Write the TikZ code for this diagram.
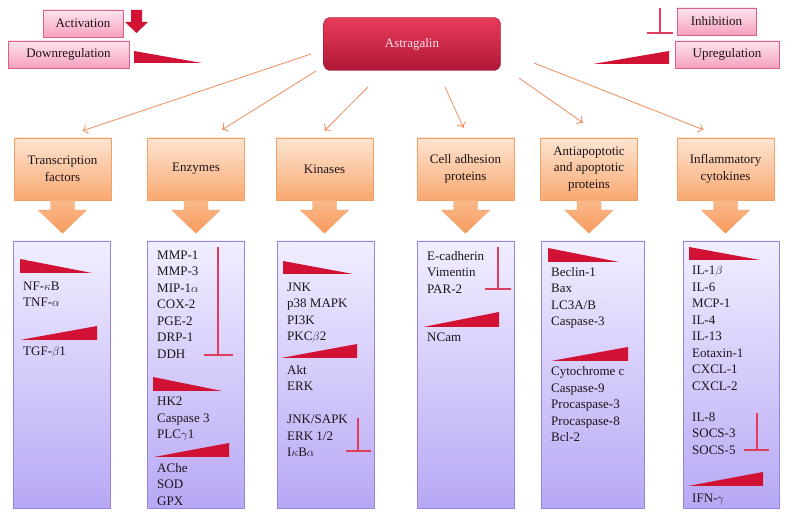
\documentclass[tikz,border=0pt]{standalone}
\usepackage{fontspec}
\setmainfont{Liberation Serif}
\usepackage{tikz}
\usetikzlibrary{arrows.meta, calc}
\usepackage{xcolor}
\definecolor{darktext}{RGB}{30, 20, 25}
\definecolor{astratop}{RGB}{232, 60, 90}
\definecolor{astrabottom}{RGB}{176, 22, 54}
\definecolor{astraborder}{RGB}{140, 18, 42}
\definecolor{astratext}{RGB}{255, 228, 236}
\definecolor{legendtop}{RGB}{253, 228, 238}
\definecolor{legendbottom}{RGB}{246, 160, 190}
\definecolor{legendborder}{RGB}{222, 96, 134}
\definecolor{cattop}{RGB}{253, 229, 210}
\definecolor{catbottom}{RGB}{249, 168, 112}
\definecolor{catborder}{RGB}{243, 160, 104}
\definecolor{arrowtop}{RGB}{251, 186, 138}
\definecolor{arrowbottom}{RGB}{247, 154, 94}
\definecolor{listtop}{RGB}{241, 238, 255}
\definecolor{listbottom}{RGB}{184, 168, 245}
\definecolor{listborder}{RGB}{150, 134, 226}
\definecolor{wedgered}{RGB}{210, 18, 52}
\definecolor{inhibred}{RGB}{222, 62, 92}
\definecolor{linkorange}{RGB}{240, 140, 90}

\begin{document}
\begin{tikzpicture}[x=1pt, y=-1pt,
    every node/.style={font=\fontsize{13}{16.5}\selectfont},
    legend/.style={rectangle, draw=legendborder, top color=legendtop, bottom color=legendbottom, minimum height=27pt, inner sep=0pt, text=darktext},
    astra/.style={rectangle, rounded corners=7pt, draw=astraborder, top color=astratop, bottom color=astrabottom, minimum width=177pt, minimum height=53pt, text=astratext},
    catbox/.style={rectangle, draw=catborder, top color=cattop, bottom color=catbottom, minimum width=97pt, minimum height=62pt, align=center, inner sep=0pt, text=darktext},
    catarrow/.style={top color=arrowtop, bottom color=arrowbottom, draw=catborder, line width=0.4pt},
    listbox/.style={rectangle, draw=listborder, top color=listtop, bottom color=listbottom, minimum width=97pt, minimum height=267pt, inner sep=0pt},
    items/.style={anchor=west, align=left, inner sep=0pt, text=darktext},
    link/.style={-{To[length=5pt, width=10pt]}, draw=linkorange, line width=0.8pt},
    wedge/.style={fill=wedgered},
    inhib/.style={draw=inhibred, line width=1.3pt}
]
    \useasboundingbox (0,0) rectangle (788,518);

    % Legend
    \node[legend, minimum width=80pt] (activation) at (83,23.5) {Activation};
    \fill[wedge] (131,10) -- (142,10) -- (142,22) -- (148,22) -- (136.5,33) -- (125,22) -- (131,22) -- cycle;
    \node[legend, minimum width=121pt] (downreg) at (68.5,54.5) {Downregulation};
    \fill[wedge] (134,51) -- (202,63) -- (134,63) -- cycle;
    \node[legend, minimum width=79pt] (inhibition) at (716.5,21.5) {Inhibition};
    \draw[inhib] (660,8) -- (660,33) (647,33) -- (673,33);
    \node[legend, minimum width=104pt] (upreg) at (727,54.5) {Upregulation};
    \fill[wedge] (593,64) -- (669,51) -- (669,64) -- cycle;

    % Astragalin
    \node[astra] (astra) at (412,44) {Astragalin};

    % Categories
    \node[catbox] (tf) at (62.5,169) {Transcription\\factors};
    \node[catbox] (enz) at (196,169) {Enzymes};
    \node[catbox] (kin) at (324.5,169) {Kinases};
    \node[catbox] (adh) at (465.5,169) {Cell adhesion\\proteins};
    \node[catbox] (apo) at (589,169) {Antiapoptotic\\and apoptotic\\proteins};
    \node[catbox] (cyt) at (725.5,169) {Inflammatory\\cytokines};

    \foreach \n in {tf,enz,kin,adh,apo,cyt}
        \path[catarrow] ($(\n.south)+(-12,0)$) -- ++(0,10) -- ++(-12,0) -- ($(\n.south)+(0,33)$)
            -- ($(\n.south)+(24,10)$) -- ++(-12,0) -- ($(\n.south)+(12,0)$) -- cycle;

    \coordinate (s1) at (311,54);
    \coordinate (s2) at (316,71);
    \coordinate (s3) at (368,87);
    \coordinate (s4) at (445,87);
    \coordinate (s5) at (519,78);
    \coordinate (s6) at (534,63);
    \draw[link] (s1) -- ([xshift=20pt, yshift=7pt]tf.north);
    \draw[link] (s2) -- ([xshift=26pt, yshift=8pt]enz.north);
    \draw[link] (s3) -- ([yshift=7pt]kin.north);
    \draw[link] (s4) -- ([xshift=-2pt, yshift=10pt]adh.north);
    \draw[link] (s5) -- ([xshift=-6pt, yshift=15pt]apo.north);
    \draw[link] (s6) -- ([xshift=-22pt, yshift=8pt]cyt.north);

    % Lists
    \node[listbox] (tflist) at (61.5,374.5) {};
    \node[listbox] (enzlist) at (195.5,374.5) {};
    \node[listbox] (kinlist) at (325.5,374.5) {};
    \node[listbox] (adhlist) at (465.5,374.5) {};
    \node[listbox, minimum width=103pt] (apolist) at (592.5,374.5) {};
    \node[listbox, minimum width=96pt] (cytlist) at (731,374.5) {};

    % Transcription factors
    \fill[wedge] (20,259) -- (92,273) -- (20,273) -- cycle;
    \node[items] (tfdown) at (23,294) {NF-$\kappa$B\\TNF-$\alpha$};
    \fill[wedge] (20,340) -- (97,326) -- (97,340) -- cycle;
    \node[items] (tfup) at (23,352) {TGF-$\beta$1};

    % Enzymes
    \node[items] (enzinhib) at (157,304.5) {MMP-1\\MMP-3\\MIP-1$\alpha$\\COX-2\\PGE-2\\DRP-1\\DDH};
    \draw[inhib] (218,247) -- (218,355) (204,355) -- (233,355);
    \fill[wedge] (153,377) -- (222,391) -- (153,391) -- cycle;
    \node[items] (enzdown) at (157,419) {HK2\\Caspase 3\\PLC$\gamma$1};
    \fill[wedge] (154,457) -- (229,443) -- (229,457) -- cycle;
    \node[items] (enzup) at (157,484.5) {AChe\\SOD\\GPX};

    % Kinases
    \fill[wedge] (283,261) -- (353,274) -- (283,274) -- cycle;
    \node[items] (kindown) at (287,313) {JNK\\p38 MAPK\\PI3K\\PKC$\beta$2};
    \fill[wedge] (281,358) -- (357,344) -- (357,358) -- cycle;
    \node[items] (kinup) at (287,378) {Akt\\ERK};
    \node[items] (kininhib) at (287,436) {JNK/SAPK\\ERK 1/2\\I$\kappa$B$\alpha$};
    \draw[inhib] (358,418) -- (358,451) (346,451) -- (371,451);

    % Cell adhesion proteins
    \node[items] (adhinhib) at (427,272) {E-cadherin\\Vimentin\\PAR-2};
    \draw[inhib] (498,247) -- (498,289) (485,289) -- (511,289);
    \fill[wedge] (423,327) -- (499,312) -- (499,327) -- cycle;
    \node[items] (adhup) at (427,337) {NCam};

    % Antiapoptotic and apoptotic proteins
    \fill[wedge] (548,248) -- (619,262) -- (548,262) -- cycle;
    \node[items] (apodown) at (551,298) {Beclin-1\\Bax\\LC3A/B\\Caspase-3};
    \fill[wedge] (551,361) -- (628,347) -- (628,361) -- cycle;
    \node[items] (apoup) at (551,404.5) {Cytochrome c\\Caspase-9\\Procaspase-3\\Procaspase-8\\Bcl-2};

    % Inflammatory cytokines
    \fill[wedge] (689,247) -- (760,260) -- (689,260) -- cycle;
    \node[items] (cytdown) at (692,328.5) {IL-1$\beta$\\IL-6\\MCP-1\\IL-4\\IL-13\\Eotaxin-1\\CXCL-1\\CXCL-2};
    \node[items] (cytinhib) at (692,433.5) {IL-8\\SOCS-3\\SOCS-5};
    \draw[inhib] (757,413) -- (757,450) (744,450) -- (769,450);
    \fill[wedge] (688,486) -- (763,472) -- (763,486) -- cycle;
    \node[items] (cytup) at (692,499) {IFN-$\gamma$};
\end{tikzpicture}
\end{document}
